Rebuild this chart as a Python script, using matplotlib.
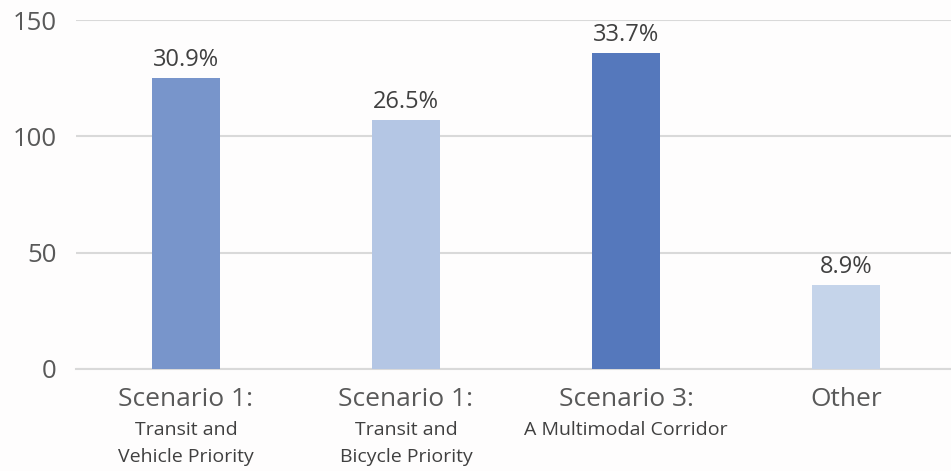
import matplotlib.pyplot as plt

# data
main_labels = ['Scenario 1:', 'Scenario 1:', 'Scenario 3:', 'Other']
sub_labels = [['Transit and', 'Vehicle Priority'], ['Transit and', 'Bicycle Priority'],
              ['A Multimodal Corridor'], []]
counts = [125, 107, 136, 36]
pct_labels = ['30.9%', '26.5%', '33.7%', '8.9%']
colors = ['#7895CB', '#B4C6E4', '#5578BC', '#C5D4EA']

plt.rcParams['font.family'] = ['Open Sans', 'DejaVu Sans']
txt = '#404040'

W, H = 951, 471
fig = plt.figure(figsize=(W / 100, H / 100), dpi=100)
fig.patch.set_facecolor('#FEFDFD')
# axes: left 76px, value 0 at y=369px, 150 at y=20px
ax = fig.add_axes([76 / W, (H - 369) / H, (W - 76) / W, (369 - 20) / H])
ax.set_facecolor('#FEFDFD')

x = list(range(len(counts)))
bars = ax.bar(x, counts, width=0.31, color=colors, zorder=3)
for b, lab in zip(bars, pct_labels):
    ax.annotate(lab, (b.get_x() + b.get_width() / 2, b.get_height()),
                xytext=(0, 8.5), textcoords='offset points', ha='center', va='baseline',
                fontsize=17, color=txt, clip_on=False)

ax.set_xlim(-0.5, -0.5 + (W - 76) / 220)
ax.set_ylim(0, 150)
ax.set_yticks([0, 50, 100, 150])
ax.tick_params(axis='y', length=0, pad=14, labelsize=18.5, labelcolor='#595959')
ax.set_xticks([])
ax.grid(axis='y', color='#D9D9D9', linewidth=1.5, zorder=0)
for s in ['top', 'right', 'left']:
    ax.spines[s].set_visible(False)
ax.spines['bottom'].set_color('#D9D9D9')
ax.spines['bottom'].set_linewidth(1.5)

tr = ax.get_xaxis_transform()
ah = 369 - 20
sub_y = [430, 457]
for i in x:
    ax.text(i, -(400 - 369) / ah, main_labels[i], transform=tr, ha='center', va='center',
            fontsize=19, color='#595959')
    for j, line in enumerate(sub_labels[i]):
        ax.text(i, -(sub_y[j] - 369) / ah, line, transform=tr,
                ha='center', va='center', fontsize=14, color=txt)

fig.savefig('out.png', dpi=100, facecolor=fig.get_facecolor())
